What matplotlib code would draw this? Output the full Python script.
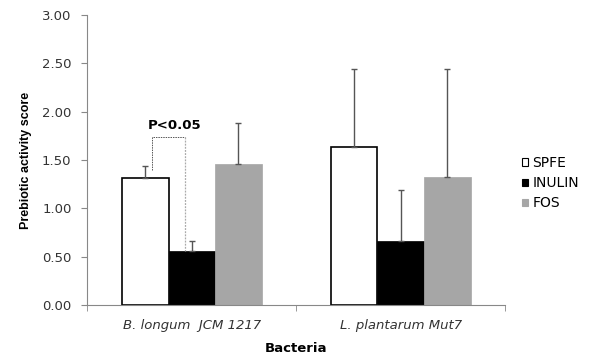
import numpy as np
import matplotlib
matplotlib.use("Agg")
import matplotlib.pyplot as plt

#%% data
bacteria = ["B. longum  JCM 1217", "L. plantarum Mut7"]
treatments = ["SPFE", "INULIN", "FOS"]
spfe = [1.31, 1.63]
spfe_err = [0.13, 0.81]
inulin = [0.56, 0.66]
inulin_err = [0.10, 0.53]
fos = [1.46, 1.32]
fos_err = [0.42, 1.12]
yticks = [0.0, 0.5, 1.0, 1.5, 2.0, 2.5, 3.0]

# the original looks horizontally stretched, so the wider DejaVu fits better
plt.rcParams['font.family'] = ['DejaVu Sans']

fig = plt.figure(figsize=(5.95, 3.56), dpi=100)
ax = fig.add_axes([0.147, 0.143, 0.702, 0.815])

x = np.arange(len(bacteria))
w = 0.223
axis_col = '#888888'

ax.bar(x - w, spfe, w, color='white', edgecolor='black', linewidth=1.2, label='SPFE', zorder=2)
ax.bar(x, inulin, w, color='black', edgecolor='black', linewidth=0.5, label='INULIN', zorder=2)
ax.bar(x + w, fos, w, color='#a6a6a6', edgecolor='#a6a6a6', linewidth=0.5, label='FOS', zorder=2)

# upper error bars only
for off, vals, errs in [(-w, spfe, spfe_err), (0, inulin, inulin_err), (w, fos, fos_err)]:
    ax.errorbar(x + off, vals, yerr=[np.zeros(len(errs)), errs], fmt='none',
                ecolor='#555555', elinewidth=1, capsize=2.5, capthick=1, zorder=3)

# significance bracket, SPFE vs INULIN of first strain
bl = -0.193
br = -0.032
ax.plot([bl, bl, br], [1.40, 1.74, 1.74], color='#555555', lw=0.7, ls=(0, (1.5, 1)), zorder=4)
ax.plot([br, br], [1.74, inulin[0]], color='#aaaaaa', lw=0.9, ls=(0, (1.5, 1)), zorder=4)
ax.text(-0.085, 1.79, 'P<0.05', ha='center', va='bottom',
        fontsize=9.5, fontweight='bold')

ax.set_xlim(-0.5, 1.5)
ax.set_ylim(0, 3.0)
ax.set_yticks(yticks)
ax.set_yticklabels(['%.2f' % v for v in yticks], fontsize=9.5, color='#333333')
ax.set_xticks(x)
ax.set_xticklabels(bacteria, fontsize=9.5, style='italic', color='#333333')
ax.tick_params(axis='x', which='major', length=0, pad=10)
ax.set_xticks([-0.5, 0.5, 1.5], minor=True)
ax.tick_params(axis='x', which='minor', length=4, color=axis_col, direction='out')
ax.tick_params(axis='y', length=4.5, color=axis_col, direction='out', pad=7)

for s in ['top', 'right']:
    ax.spines[s].set_visible(False)
for s in ['left', 'bottom']:
    ax.spines[s].set_color(axis_col)
    ax.spines[s].set_linewidth(0.8)

ax.set_ylabel('Prebiotic activity score', fontsize=9, fontweight='bold', labelpad=7,
              family=['Liberation Sans', 'DejaVu Sans'])
ax.set_xlabel('Bacteria', fontsize=9.5, fontweight='bold', labelpad=7)

leg = ax.legend(loc='center left', bbox_to_anchor=(1.0, 0.42), frameon=False,
                fontsize=10, handlelength=0.45, handleheight=0.45, handletextpad=0.3,
                labelspacing=0.45, borderaxespad=0.8)
for h in leg.legend_handles:
    h.set_linewidth(0.8)

fig.savefig('out.png', dpi=100)
